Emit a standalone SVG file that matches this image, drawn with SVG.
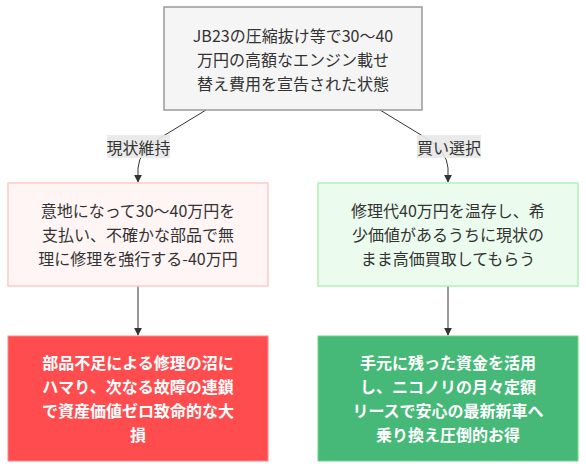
<svg xmlns="http://www.w3.org/2000/svg" width="586" height="470" viewBox="0 0 586 470">
<defs>
<style>
text{font-family:"Noto Sans CJK JP","Noto Sans",sans-serif;font-size:16px;text-anchor:middle;dominant-baseline:central;fill:#333}
.w{fill:#fff;font-weight:bold}
.edge{fill:none;stroke:#333;stroke-width:1;marker-end:url(#arr)}
.lbl{fill:#e8e8e8;opacity:0.9}
</style>
<marker id="arr" viewBox="0 0 10 10" refX="9" refY="5" markerWidth="8" markerHeight="8" orient="auto" markerUnits="userSpaceOnUse">
<path d="M0,0 L10,5 L0,10 z" fill="#333"/>
</marker>
</defs>
<g id="connectors">
<path class="edge" d="M206,110 L160,138 Q139,151 138,168 L138,182"/>
<path class="edge" d="M380,110 L426,138 Q447,151 448,168 L448,182"/>
<path class="edge" d="M138,286 L138,335"/>
<path class="edge" d="M448,286 L448,335"/>
<rect class="lbl" x="107" y="135" width="63" height="23"/>
<text x="138.5" y="146.5">現状維持</text>
<rect class="lbl" x="417" y="135" width="64" height="23"/>
<text x="449" y="146.5">買い選択</text>
</g>
<g id="start">
<rect x="164" y="7" width="258" height="103" fill="#f5f5f5" stroke="#999" stroke-width="1.5"/>
<text x="293" y="35">JB23の圧縮抜け等で30～40</text>
<text x="293" y="59">万円の高額なエンジン載せ</text>
<text x="293" y="83">替え費用を宣告された状態</text>
</g>
<g id="keep">
<rect x="8" y="183" width="260" height="103" fill="#fff5f5" stroke="#ffc9c9" stroke-width="1.5"/>
<text x="138" y="210">意地になって30～40万円を</text>
<text x="138" y="234">支払い、不確かな部品で無</text>
<text x="138" y="258">理に修理を強行する-40万円</text>
</g>
<g id="sell">
<rect x="318" y="183" width="260" height="103" fill="#ebfbee" stroke="#b2f2bb" stroke-width="1.5"/>
<text x="448" y="210">修理代40万円を温存し、希</text>
<text x="448" y="234">少価値があるうちに現状の</text>
<text x="448" y="258">まま高価買取してもらう</text>
</g>
<g id="bad">
<rect x="8" y="336" width="260" height="125" fill="#ff4d4f" stroke="#ff8787" stroke-width="1"/>
<text class="w" x="138" y="362">部品不足による修理の沼に</text>
<text class="w" x="138" y="386">ハマり、次なる故障の連鎖</text>
<text class="w" x="138" y="410">で資産価値ゼロ致命的な大</text>
<text class="w" x="138" y="434">損</text>
</g>
<g id="good">
<rect x="318" y="336" width="260" height="125" fill="#46b978" stroke="#69db7c" stroke-width="1"/>
<text class="w" x="448" y="362">手元に残った資金を活用</text>
<text class="w" x="448" y="386">し、ニコノリの月々定額</text>
<text class="w" x="448" y="410">リースで安心の最新新車へ</text>
<text class="w" x="448" y="434">乗り換え圧倒的お得</text>
</g>
</svg>
